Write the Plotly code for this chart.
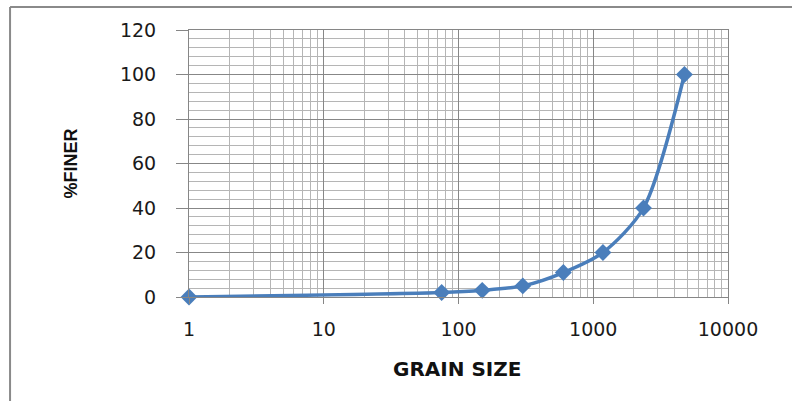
import plotly.graph_objects as go

grain_size = [1, 75, 150, 300, 600, 1180, 2360, 4750]
percent_finer = [0, 2, 3, 5, 11, 20, 40, 100]

x_tick_vals = [1, 10, 100, 1000, 10000]
x_tick_text = ["1", "10", "100", "1000", "10000"]
y_tick_vals = [0, 20, 40, 60, 80, 100, 120]

x_title = "GRAIN SIZE"
y_title = "%FINER"

fig = go.Figure()
fig.add_trace(go.Scatter(
    x=grain_size, y=percent_finer,
    mode="lines+markers",
    line=dict(color="#4A7EBB", width=3.5, shape="spline", smoothing=0.8),
    marker=dict(symbol="diamond", size=13, color="#4A7EBB"),
    cliponaxis=False,
    showlegend=False,
))

tick_font = dict(family="DejaVu Sans", size=19, color="#1a1a1a")

fig.update_layout(
    width=792, height=401,
    margin=dict(l=189, r=64, t=30, b=104),
    paper_bgcolor="white", plot_bgcolor="white",
    xaxis=dict(
        type="log", range=[0, 4],
        tickvals=x_tick_vals, ticktext=x_tick_text,
        ticks="outside", ticklen=6, tickcolor="#868686", tickwidth=1,
        showgrid=True, gridcolor="#878787", gridwidth=1,
        minor=dict(dtick="D1", showgrid=True, gridcolor="#B5B5B5", gridwidth=1, ticks=""),
        showline=True, linecolor="#868686", linewidth=1, mirror=True,
        tickfont=tick_font, ticklabelstandoff=9,
        zeroline=False,
    ),
    yaxis=dict(
        range=[0, 120], tickvals=y_tick_vals,
        ticks="outside", ticklen=12, tickcolor="#868686", tickwidth=1,
        showgrid=True, gridcolor="#878787", gridwidth=1,
        minor=dict(dtick=4, showgrid=True, gridcolor="#B5B5B5", gridwidth=1, ticks=""),
        showline=True, linecolor="#868686", linewidth=1, mirror=True,
        tickfont=tick_font, ticklabelstandoff=16,
        zeroline=False,
    ),
    annotations=[
        dict(text=x_title, xref="paper", yref="paper", x=0.497, y=-0.27,
             xanchor="center", yanchor="middle", showarrow=False,
             font=dict(family="DejaVu Sans", size=20, color="#111111", weight="bold")),
        dict(text=y_title, xref="paper", yref="paper", x=-0.219, y=0.5,
             xanchor="center", yanchor="middle", showarrow=False, textangle=-90,
             font=dict(family="Liberation Sans", size=18, color="#111111", weight="bold")),
    ],
    shapes=[
        dict(type="line", xref="paper", yref="paper", x0=-0.332, x1=-0.332, y0=1.086, y1=-0.5,
             line=dict(color="#8A8A8A", width=2)),
        dict(type="line", xref="paper", yref="paper", x0=-0.332, x1=1.2, y0=1.086, y1=1.086,
             line=dict(color="#8A8A8A", width=2)),
    ],
)

fig.write_html("out.html", config={"displayModeBar": False},
               post_script="document.body.style.margin='0';")
